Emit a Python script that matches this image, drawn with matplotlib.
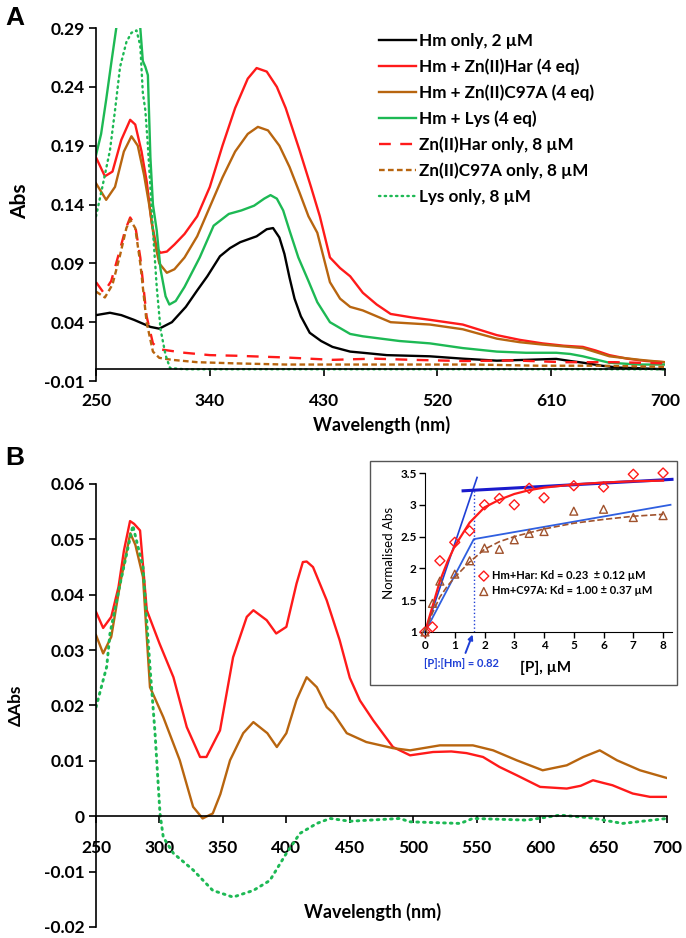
import numpy as np
import matplotlib
matplotlib.use("Agg")
import matplotlib.pyplot as plt
from matplotlib.patches import Rectangle

plt.rcParams['font.family'] = ['Lato', 'DejaVu Sans']
plt.rcParams['font.weight'] = 'bold'
plt.rcParams['axes.unicode_minus'] = False

# ---------------- Panel A : absorbance spectra ----------------
hm_wl = [250, 261, 270, 280, 293, 300, 310, 321, 330, 338, 348, 356, 364, 377, 385, 390, 395, 399,
         403, 407, 412, 419, 428, 437, 451, 461, 480, 514, 540, 567, 590, 614, 625, 635, 650, 663, 680, 700]
hm_abs = [0.046, 0.048, 0.046, 0.042, 0.036, 0.0345, 0.040, 0.053, 0.067, 0.079, 0.096, 0.103, 0.108,
          0.113, 0.119, 0.120, 0.112, 0.098, 0.078, 0.060, 0.045, 0.031, 0.024, 0.019, 0.015, 0.014,
          0.012, 0.011, 0.009, 0.0073, 0.008, 0.0088, 0.007, 0.0056, 0.003, 0.0014, 0.0008, 0.0]

har_wl = [250, 257, 263, 270, 277, 281, 286, 290, 294, 298, 301, 306, 312, 320, 330, 340, 350, 360, 370,
          377, 385, 393, 400, 411, 420, 427, 435, 443, 451, 461, 472, 483, 500, 514, 540, 555, 567, 585,
          603, 620, 635, 645, 656, 670, 685, 700]
har_abs = [0.180, 0.164, 0.168, 0.195, 0.212, 0.208, 0.185, 0.160, 0.125, 0.103, 0.099, 0.100, 0.106,
           0.115, 0.130, 0.155, 0.190, 0.222, 0.247, 0.256, 0.253, 0.240, 0.222, 0.186, 0.155, 0.130,
           0.095, 0.086, 0.079, 0.065, 0.055, 0.047, 0.044, 0.042, 0.038, 0.033, 0.029, 0.025, 0.022,
           0.020, 0.019, 0.016, 0.012, 0.009, 0.007, 0.006]

c97_wl = [250, 258, 265, 272, 278, 283, 288, 292, 296, 300, 306, 312, 320, 330, 340, 350, 360, 370, 378,
          386, 395, 403, 411, 418, 425, 435, 443, 451, 461, 483, 514, 540, 567, 585, 603, 635, 656, 680, 700]
c97_abs = [0.158, 0.144, 0.155, 0.185, 0.198, 0.190, 0.165, 0.140, 0.110, 0.090, 0.082, 0.085, 0.095,
           0.113, 0.138, 0.163, 0.185, 0.200, 0.206, 0.203, 0.190, 0.172, 0.150, 0.130, 0.116, 0.074,
           0.060, 0.053, 0.050, 0.040, 0.038, 0.034, 0.026, 0.023, 0.021, 0.018, 0.011, 0.008, 0.006]

lys_wl = [250, 254, 258, 262, 266, 270, 276, 282, 285, 287, 289, 291, 293, 295, 298, 301, 305, 308, 313,
          320, 332, 343, 355, 365, 375, 383, 388, 393, 398, 403, 410, 418, 425, 435, 451, 461, 490, 514,
          540, 567, 590, 614, 625, 635, 656, 680, 700]
lys_abs = [0.182, 0.200, 0.229, 0.260, 0.290, 0.310, 0.315, 0.305, 0.290, 0.262, 0.257, 0.250, 0.180,
           0.140, 0.118, 0.085, 0.062, 0.055, 0.058, 0.070, 0.095, 0.122, 0.132, 0.135, 0.139, 0.145,
           0.148, 0.145, 0.135, 0.118, 0.095, 0.075, 0.057, 0.040, 0.030, 0.028, 0.024, 0.022, 0.018,
           0.015, 0.014, 0.014, 0.013, 0.011, 0.0055, 0.004, 0.004]

har_only_wl = [250, 256, 262, 268, 273, 277, 281, 285, 290, 295, 300, 320, 340, 360, 400, 437, 470, 500,
               540, 580, 620, 660, 700]
har_only_abs = [0.074, 0.065, 0.075, 0.098, 0.118, 0.129, 0.122, 0.095, 0.045, 0.022, 0.017, 0.014,
                0.012, 0.0115, 0.010, 0.008, 0.009, 0.008, 0.007, 0.0075, 0.006, 0.006, 0.005]

c97_only_wl = [250, 257, 263, 269, 274, 277, 281, 285, 290, 295, 300, 310, 330, 360, 400, 450, 500, 550,
               600, 650, 700]
c97_only_abs = [0.066, 0.061, 0.072, 0.097, 0.120, 0.127, 0.120, 0.090, 0.040, 0.015, 0.0097, 0.008,
                0.006, 0.005, 0.004, 0.004, 0.004, 0.004, 0.003, 0.003, 0.002]

lys_only_wl = [250, 255, 261, 265, 269, 274, 278, 282, 285, 287, 289, 291, 295, 298, 301, 305, 308.5,
               320, 400, 500, 600, 700]
lys_only_abs = [0.130, 0.155, 0.186, 0.220, 0.257, 0.278, 0.286, 0.288, 0.275, 0.235, 0.220, 0.190,
                0.118, 0.070, 0.034, 0.012, 0.001, 0.0, 0.0, 0.0, 0.0, 0.0]

a_xticks = [250, 340, 430, 520, 610, 700]
a_yticks = [-0.01, 0.04, 0.09, 0.14, 0.19, 0.24, 0.29]

# ---------------- Panel B : difference spectra ----------------
d_har_wl = [250, 255.6, 262, 267.7, 272, 276.8, 280, 284.7, 290, 300, 311, 321.5, 332, 337, 347.7, 358,
            368.8, 374, 384.5, 392, 400, 408, 413, 416, 421, 431.8, 442, 450, 458, 468.5, 484, 497.5,
            515.6, 530, 542, 555, 568, 581.6, 600, 621, 632, 641.7, 650, 657, 673, 686.6, 700]
d_har = [0.0369, 0.034, 0.036, 0.0414, 0.048, 0.0533, 0.0528, 0.0516, 0.0372, 0.0312, 0.0251, 0.0161,
         0.0107, 0.0107, 0.0155, 0.0287, 0.036, 0.0372, 0.0354, 0.033, 0.0342, 0.042, 0.0459, 0.046,
         0.045, 0.039, 0.0318, 0.025, 0.0209, 0.0173, 0.0125, 0.011, 0.0116, 0.0117, 0.0114, 0.0107,
         0.0089, 0.0074, 0.0053, 0.005, 0.0055, 0.0065, 0.006, 0.0056, 0.0041, 0.0035, 0.0035]

d_c97_wl = [250, 255.6, 262, 269, 277, 281, 287, 292.5, 297, 303, 316, 326.5, 334, 342, 348, 355.6, 366,
            374, 385, 392.5, 400, 408, 416, 424, 431.8, 437, 447.6, 463, 484, 497.5, 521, 547, 563,
            581.6, 602, 621, 634, 647, 660.6, 678.7, 700]
d_c97 = [0.0327, 0.0294, 0.0324, 0.042, 0.0511, 0.049, 0.0432, 0.0233, 0.021, 0.0179, 0.0101, 0.0017,
         -0.0004, 0.0005, 0.004, 0.0101, 0.015, 0.017, 0.015, 0.0125, 0.015, 0.021, 0.0251, 0.0233,
         0.0197, 0.0186, 0.015, 0.0134, 0.0123, 0.0119, 0.0128, 0.0128, 0.0119, 0.0101, 0.0083, 0.0092,
         0.0107, 0.0119, 0.0101, 0.0083, 0.0069]

d_lys_wl = [250, 258.4, 261, 269, 279, 287, 292.5, 296.5, 300.4, 303, 311, 326.5, 342, 358, 374, 387,
            400, 410.7, 424, 434.5, 450, 489.6, 497, 537, 547, 589.7, 615.7, 640, 665, 700]
d_lys = [0.0197, 0.027, 0.033, 0.042, 0.0525, 0.045, 0.027, 0.015, 0.0005, -0.0038, -0.0067, -0.0097,
         -0.0134, -0.0146, -0.0134, -0.0116, -0.0067, -0.0031, -0.0013, -0.0004, -0.0009, -0.0004,
         -0.001, -0.0013, -0.0004, -0.0007, 0.0002, -0.0003, -0.0013, -0.0004]

b_xticks = [250, 300, 350, 400, 450, 500, 550, 600, 650, 700]
b_yticks = [-0.02, -0.01, 0, 0.01, 0.02, 0.03, 0.04, 0.05, 0.06]
b_ylabels = ['-0.02', '-0.01', '0', '0.01', '0.02', '0.03', '0.04', '0.05', '0.06']

# ---------------- Inset : titration ----------------
p_conc = [0, 0.25, 0.5, 1, 1.5, 2, 2.5, 3, 3.5, 4, 5, 6, 7, 8]
norm_har = [1.0, 1.08, 2.12, 2.41, 2.59, 3.0, 3.1, 3.0, 3.26, 3.11, 3.30, 3.28, 3.48, 3.5]
norm_c97 = [1.0, 1.45, 1.8, 1.91, 2.12, 2.32, 2.30, 2.45, 2.55, 2.58, 2.9, 2.93, 2.8, 2.83]
fit_x = [0, 0.25, 0.5, 0.75, 1, 1.5, 2, 2.5, 3, 3.5, 4, 5, 6, 7, 8]
fit_har = [1.0, 1.4, 1.8, 2.1, 2.35, 2.72, 2.96, 3.08, 3.17, 3.23, 3.27, 3.32, 3.35, 3.37, 3.38]
fit_c97 = [1.0, 1.3, 1.55, 1.72, 1.86, 2.1, 2.3, 2.42, 2.5, 2.56, 2.62, 2.71, 2.77, 2.82, 2.85]
steep_x = [0, 1.75]
steep_y = [1.0, 3.43]
plateau_x = [1.28, 8.3]
plateau_y = [3.22, 3.40]
low_x = [0, 1.64, 8.25]
low_y = [1.0, 2.46, 3.0]
ratio_x = 1.64

red = '#ff1a1a'
brown = '#b8650f'
green = '#1db954'
blue = '#1f3fd6'

fig = plt.figure(figsize=(6.86, 9.38), dpi=100)

# ---- panel A ----
ax = fig.add_axes([0.140, 0.5938, 0.8294, 0.3763])
lw = 1.7
ax.plot(hm_wl, hm_abs, color='black', lw=lw, label='Hm only, 2 µM')
ax.plot(har_wl, har_abs, color=red, lw=lw, label='Hm + Zn(II)Har (4 eq)')
ax.plot(c97_wl, c97_abs, color=brown, lw=lw, label='Hm + Zn(II)C97A (4 eq)')
ax.plot(lys_wl, lys_abs, color=green, lw=lw, label='Hm + Lys (4 eq)')
ax.plot(har_only_wl, har_only_abs, color=red, lw=lw, dashes=(5, 4), label='Zn(II)Har only, 8 µM')
ax.plot(c97_only_wl, c97_only_abs, color=brown, lw=lw, dashes=(2.4, 1.4), label='Zn(II)C97A only, 8 µM')
ax.plot(lys_only_wl, lys_only_abs, color=green, lw=lw, dashes=(0.6, 1.8), dash_capstyle='round',
        label='Lys only, 8 µM')
ax.set_xlim(250, 700)
ax.set_ylim(-0.01, 0.29)
ax.spines['top'].set_visible(False)
ax.spines['right'].set_visible(False)
ax.spines['bottom'].set_position(('data', 0))
for s in ('left', 'bottom'):
    ax.spines[s].set_linewidth(1.2)
ax.set_xticks(a_xticks)
ax.set_yticks(a_yticks)
ax.set_yticklabels([f'{v:.2f}' for v in a_yticks])
ax.tick_params(direction='out', length=5, width=1.2, labelsize=12.5, pad=3)
ax.tick_params(axis='x', pad=12)
ax.legend(loc='upper left', bbox_to_anchor=(0.497, 0.985), frameon=False, fontsize=12.3,
          handlelength=2.2, handletextpad=0.15, labelspacing=0.55, borderaxespad=0, borderpad=0)
fig.text(20 / 686, 1 - 201 / 938, 'Abs', rotation=90, ha='center', va='center', fontsize=15, fontweight='bold')
fig.text(382 / 686, 1 - 425 / 938, 'Wavelength (nm)', ha='center', va='center', fontsize=13, fontweight='bold')
fig.text(15 / 686, 1 - 18 / 938, 'A', ha='center', va='center', fontsize=19, fontweight='bold',
         family='Liberation Sans')

# ---- panel B ----
bx = fig.add_axes([0.140, 0.01173, 0.8323, 0.4723])
bx.plot(d_har_wl, d_har, color=red, lw=lw)
bx.plot(d_c97_wl, d_c97, color=brown, lw=lw)
bx.plot(d_lys_wl, d_lys, color=green, lw=2.1, dashes=(0.6, 1.7), dash_capstyle='round')
bx.set_xlim(250, 700)
bx.set_ylim(-0.02, 0.06)
bx.spines['top'].set_visible(False)
bx.spines['right'].set_visible(False)
bx.spines['bottom'].set_position(('data', 0))
for s in ('left', 'bottom'):
    bx.spines[s].set_linewidth(1.2)
bx.set_xticks(b_xticks)
bx.set_yticks(b_yticks)
bx.set_yticklabels(b_ylabels)
bx.tick_params(direction='out', length=5, width=1.2, labelsize=12.5, pad=3)
bx.tick_params(axis='x', pad=12)
fig.text(16 / 686, 1 - 705 / 938, 'ΔAbs', rotation=90, ha='center', va='center', fontsize=12.5, fontweight='bold')
fig.text(373 / 686, 1 - 912 / 938, 'Wavelength (nm)', ha='center', va='center', fontsize=13, fontweight='bold')
fig.text(15 / 686, 1 - 458 / 938, 'B', ha='center', va='center', fontsize=19, fontweight='bold',
         family='Liberation Sans')

# ---- inset ----
fig.patches.append(Rectangle((370 / 686, 1 - 685 / 938), 307 / 686, 224 / 938, transform=fig.transFigure,
                             facecolor='white', edgecolor='#555555', lw=1.0, zorder=2))
ix = fig.add_axes([425 / 686, 1 - 632 / 938, 247 / 686, 159 / 938])
ix.set_zorder(5)
ix.patch.set_alpha(0)
ix.plot(steep_x, steep_y, color=blue, lw=1.2, clip_on=False)
ix.plot(plateau_x, plateau_y, color='#1a1acc', lw=2.2, clip_on=False)
ix.plot(low_x, low_y, color='#2f5fe0', lw=1.3, clip_on=False)
ix.plot([ratio_x, ratio_x], [1.0, 3.23], color=blue, lw=1.0, ls=':')
ix.plot(fit_x, fit_har, color=red, lw=1.6)
ix.plot(fit_x, fit_c97, color='#a0522d', lw=1.2, ls='--')
h1 = ix.scatter(p_conc, norm_har, marker='D', s=26, facecolor='none', edgecolor=red, lw=1.0,
                zorder=4, clip_on=False)
h2 = ix.scatter(p_conc, norm_c97, marker='^', s=32, facecolor='none', edgecolor='#a0522d', lw=1.0,
                zorder=4, clip_on=False)
ix.set_xlim(0, 8.3)
ix.set_ylim(1, 3.5)
ix.spines['top'].set_visible(False)
ix.spines['right'].set_visible(False)
ix.set_xticks(range(0, 9))
ix.set_yticks([1, 1.5, 2, 2.5, 3, 3.5])
ix.set_yticklabels(['1', '1.5', '2', '2.5', '3', '3.5'])
ix.tick_params(direction='out', length=4, width=1.0, labelsize=8.5, pad=2)
ix.set_ylabel('Normalised Abs', fontsize=9.5, fontweight='normal', labelpad=4)
ix.legend([h1, h2], ['Hm+Har: Kd = 0.23  ± 0.12 µM', 'Hm+C97A: Kd = 1.00 ± 0.37 µM'],
          loc='upper left', bbox_to_anchor=(0.22, 0.39), frameon=False, fontsize=8,
          handlelength=0.8, handletextpad=0.3, labelspacing=0.4, borderpad=0, borderaxespad=0)
ix.annotate('[P]:[Hm] = 0.82', xy=(1.6, 0.96), xytext=(1.22, 0.50), textcoords='data',
            ha='center', va='center', fontsize=8, color=blue, fontweight='bold', annotation_clip=False,
            arrowprops=dict(arrowstyle='-|>', color=blue, lw=1.4, mutation_scale=7, shrinkA=2, shrinkB=0))
ix.text(4.05, 0.43, '[P], µM', ha='center', va='center', fontsize=11, fontweight='bold', clip_on=False)

fig.savefig('out.png', dpi=100)
